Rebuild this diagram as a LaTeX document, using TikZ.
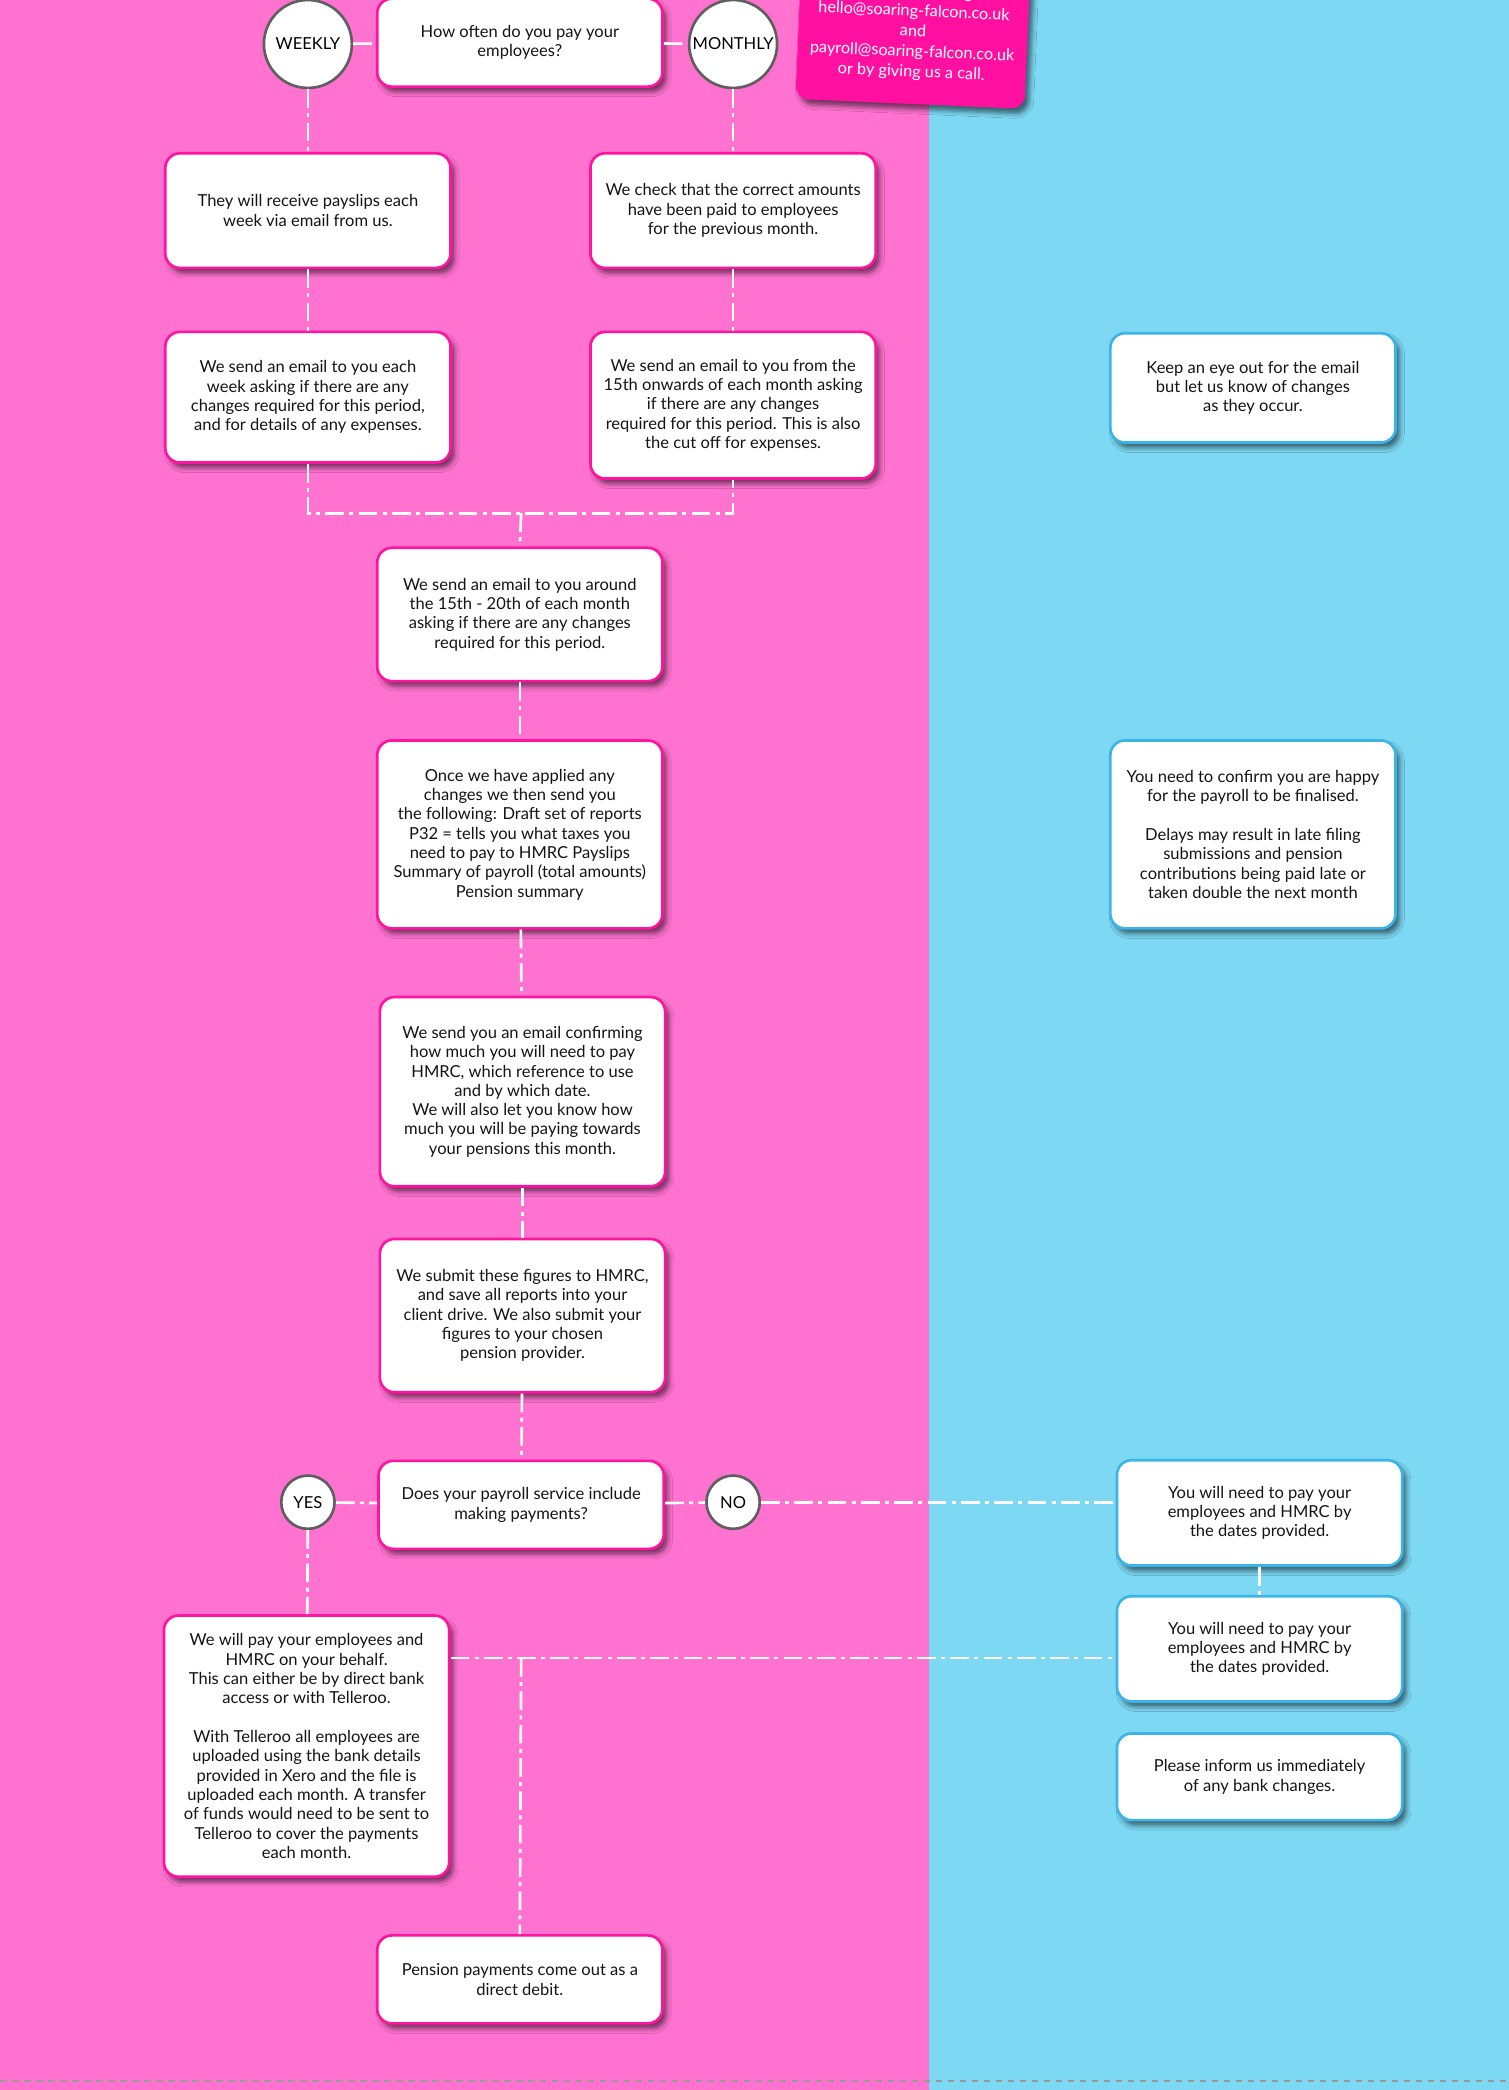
\documentclass[tikz,border=0pt]{standalone}
\usepackage{fontspec}
\setmainfont{Lato}
\usetikzlibrary{shadows.blur}

\definecolor{lanepink}{RGB}{255,114,208}
\definecolor{laneblue}{RGB}{125,216,243}
\definecolor{edgepink}{RGB}{255,20,160}
\definecolor{notepink}{RGB}{255,16,160}
\definecolor{edgeblue}{RGB}{60,180,232}
\definecolor{ringgray}{RGB}{95,95,95}
\definecolor{ink}{RGB}{20,20,20}

\newcommand\cardfont{\fontsize{12.4}{14.5}\selectfont}
\newcommand\notefont{\fontsize{12.2}{15.2}\selectfont}
\newcommand\ringfont{\fontsize{12.4}{14}\selectfont}

\tikzset{
  card/.style={draw=edgepink, fill=white, line width=2pt, rounded corners=11pt,
    minimum width=214pt, align=center, font=\cardfont, text=ink, inner sep=3pt,
    blur shadow={shadow xshift=3pt, shadow yshift=-4pt, shadow blur radius=3.5pt, shadow opacity=55}},
  bluecard/.style={card, draw=edgeblue},
  ring/.style={circle, draw=ringgray, fill=white, line width=2pt, inner sep=0pt,
    font=\ringfont, text=black},
  link/.style={white, line width=2pt, dash pattern=on 14pt off 4pt on 3pt off 4pt},
}

\begin{document}
\begin{tikzpicture}[x=1pt,y=1pt]
\fill[lanepink] (0,0) rectangle (697,-1568);
\fill[laneblue] (697,0) rectangle (1132,-1568);
\useasboundingbox (0,0) rectangle (1132,-1568);
\draw[gray!80, line width=1.5pt, dash pattern=on 5pt off 4pt] (0,-1561) -- (1132,-1561);
%
% top question
\node[card, minimum height=66pt] (often) at (390,-32) {How often do you pay your\\employees?};
\node[ring, minimum size=66pt] (weekly) at (231,-33) {WEEKLY};
\node[ring, minimum size=66pt] (monthly) at (550,-33) {MONTHLY};
\node[card, draw=none, fill=notepink, text=white, font=\notefont, rounded corners=10pt, rotate=-2.5,
  minimum width=172pt, minimum height=108pt] (contact) at (685,-24)
  {contact us by emailing us on\\hello@soaring-falcon.co.uk\\and\\payroll@soaring-falcon.co.uk\\or by giving us a call.};
%
% weekly / monthly columns
\node[card, minimum height=86pt] (wk1) at (231,-158) {They will receive payslips each\\week via email from us.};
\node[card, minimum height=86pt] (mo1) at (550,-158) {We check that the correct amounts\\have been paid to employees\\for the previous month.};
\node[card, minimum height=98pt] (wk2) at (231,-298) {We send an email to you each\\week asking if there are any\\changes required for this period,\\and for details of any expenses.};
\node[card, minimum height=110pt] (mo2) at (550,-304) {We send an email to you from the\\15th onwards of each month asking\\if there are any changes\\required for this period. This is also\\the cut off for expenses.};
\node[bluecard, minimum height=82pt] (keep) at (940,-291) {Keep an eye out for the email\\but let us know of changes\\as they occur.};
\coordinate (merge) at (391,-385);
%
% main column
\node[card, minimum height=100pt] (around) at (390,-461) {We send an email to you around\\the 15th - 20th of each month\\asking if there are any changes\\required for this period.};
\node[card, minimum height=141pt] (applied) at (390,-626) {Once we have applied any\\changes we then send you\\the following: Draft set of reports\\P32 = tells you what taxes you\\need to pay to HMRC Payslips\\Summary of payroll (total amounts)\\Pension summary};
\node[bluecard, minimum height=141pt] (confirm) at (940,-626) {You need to confirm you are happy\\for the payroll to be finalised.\\[14.5pt]Delays may result in late filing\\submissions and pension\\contributions being paid late or\\taken double the next month};
\node[card, minimum height=142pt] (emailed) at (392,-819) {We send you an email confirming\\how much you will need to pay\\HMRC, which reference to use\\and by which date.\\We will also let you know how\\much you will be paying towards\\your pensions this month.};
\node[card, minimum height=115pt] (submit) at (392,-987) {We submit these figures to HMRC,\\and save all reports into your\\client drive. We also submit your\\figures to your chosen\\pension provider.};
%
% payments question
\node[card, minimum height=66pt] (payq) at (391,-1129) {Does your payroll service include\\making payments?};
\node[ring, minimum size=40pt] (yes) at (231,-1127) {YES};
\node[ring, minimum size=40pt] (no) at (550,-1127) {NO};
\node[bluecard, minimum height=79pt] (nopay1) at (945,-1135) {You will need to pay your\\employees and HMRC by\\the dates provided.};
\node[bluecard, minimum height=79pt] (nopay2) at (945,-1237) {You will need to pay your\\employees and HMRC by\\the dates provided.};
\node[bluecard, minimum height=65pt] (bank) at (945,-1333) {Please inform us immediately\\of any bank changes.};
\node[card, minimum height=196pt] (wepay) at (230,-1310) {We will pay your employees and\\HMRC on your behalf.\\This can either be by direct bank\\access or with Telleroo.\\[14.5pt]With Telleroo all employees are\\uploaded using the bank details\\provided in Xero and the file is\\uploaded each month. A transfer\\of funds would need to be sent to\\Telleroo to cover the payments\\each month.};
\node[card, minimum height=66pt] (pension) at (390,-1485) {Pension payments come out as a\\direct debit.};
\coordinate (split) at (391,-1244);
%
% connectors
\draw[link] (weekly) -- (often);
\draw[link] (often) -- (monthly);
\draw[link] (weekly) -- (wk1);
\draw[link] (monthly) -- (mo1);
\draw[link] (wk1) -- (wk2);
\draw[link] (mo1) -- (mo2);
\draw[link] (wk2.south) |- (merge) -| (mo2.south);
\draw[link] (merge) -- (around.north);
\draw[link] (around) -- (applied);
\draw[link] (applied) -- (emailed);
\draw[link] (emailed) -- (submit);
\draw[link] (submit) -- (payq);
\draw[link] (yes) -- (payq);
\draw[link] (payq) -- (no);
\draw[link] (no.east) -- (no.east -| nopay1.west);
\draw[link] (nopay1) -- (nopay2);
\draw[link] (yes) -- (wepay);
\draw[link] (wepay.east |- split) -- (split -| nopay2.west);
\draw[link] (split) -- (pension.north);
\end{tikzpicture}
\end{document}
